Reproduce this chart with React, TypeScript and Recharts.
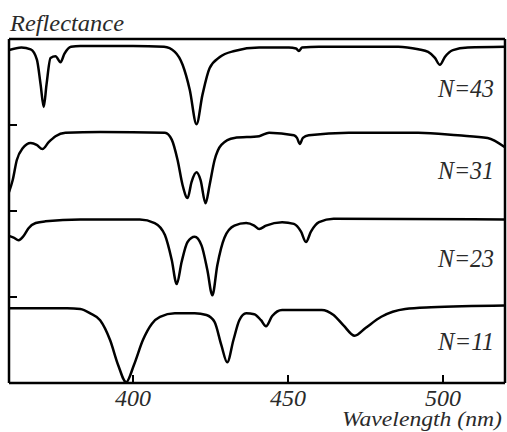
import React from "react";
import { ComposedChart, Line, XAxis, YAxis } from "recharts";

// Wavelength (nm) and stacked reflectance (band offset + value) for each sample
const n43Wl = [360, 364, 367, 369, 370.2, 371.2, 372.1, 373.4, 375, 376.6, 377.9, 380, 383, 400, 410, 413.5, 416, 418.3, 420.5, 422.4, 424.7, 428, 432.7, 440.7, 450.3, 452.6, 453.5, 454.5, 460, 485.6, 492, 495.2, 497.4, 499, 500.6, 503.2, 508, 520];
const n43R = [3.87, 3.9, 3.88, 3.76, 3.47, 3.21, 3.47, 3.78, 3.8, 3.73, 3.83, 3.91, 3.92, 3.92, 3.91, 3.85, 3.7, 3.41, 3.01, 3.35, 3.66, 3.79, 3.86, 3.9, 3.9, 3.89, 3.86, 3.9, 3.91, 3.91, 3.88, 3.85, 3.78, 3.7, 3.79, 3.87, 3.9, 3.91];

const n31Wl = [360, 361.2, 362.5, 364.4, 367, 368.9, 370.8, 372.8, 375, 378.2, 389.4, 410.3, 412.5, 414.4, 416, 417.6, 418.9, 420.5, 421.8, 423.4, 424.7, 426.3, 428.5, 432.7, 440.7, 443.9, 451.9, 452.9, 453.8, 454.8, 456.7, 469.6, 492, 504.8, 514.4, 520];
const n31R = [2.22, 2.36, 2.59, 2.73, 2.79, 2.77, 2.72, 2.8, 2.87, 2.91, 2.92, 2.91, 2.83, 2.59, 2.3, 2.15, 2.34, 2.45, 2.36, 2.09, 2.3, 2.59, 2.77, 2.85, 2.87, 2.91, 2.88, 2.85, 2.78, 2.85, 2.88, 2.91, 2.91, 2.88, 2.85, 2.74];

const n23Wl = [360, 361.5, 363.1, 364.7, 366.3, 368.6, 371.8, 383, 402.2, 407, 410.3, 412.5, 414.1, 415.7, 417.6, 419.9, 422.1, 424, 425.6, 427.2, 429.5, 432.7, 436.5, 439.1, 440.7, 442.9, 448.1, 451.9, 454.2, 455.8, 457.4, 460, 464.7, 520];
const n23R = [1.71, 1.69, 1.66, 1.71, 1.8, 1.86, 1.88, 1.9, 1.9, 1.86, 1.72, 1.43, 1.15, 1.41, 1.64, 1.7, 1.6, 1.31, 1.02, 1.37, 1.69, 1.83, 1.86, 1.83, 1.79, 1.83, 1.87, 1.85, 1.76, 1.64, 1.76, 1.87, 1.91, 1.9];

const n11Wl = [360, 378.8, 383, 386.2, 389.4, 392.6, 395.2, 397.8, 400.3, 403.2, 406.1, 408.7, 413.5, 419.9, 423.7, 426.3, 428.5, 430.4, 432.4, 434.3, 436.5, 439.1, 441.3, 442.9, 444.9, 448.1, 460.9, 464.7, 467.9, 471.5, 475, 480.1, 487.8, 496.2, 520];
const n11R = [0.87, 0.87, 0.86, 0.81, 0.73, 0.5, 0.21, 0.01, 0.21, 0.5, 0.69, 0.77, 0.81, 0.81, 0.79, 0.71, 0.44, 0.24, 0.5, 0.73, 0.81, 0.8, 0.73, 0.66, 0.78, 0.85, 0.85, 0.79, 0.67, 0.55, 0.64, 0.77, 0.86, 0.88, 0.9];

const xTicks = [400, 450, 500];
const yTicks = [1, 2, 3];
const seriesLabels = ["N=43", "N=31", "N=23", "N=11"];

const toData = (wl: number[], r: number[]) => wl.map((x, i) => ({ x, y: r[i] }));
const series = [
  toData(n43Wl, n43R),
  toData(n31Wl, n31R),
  toData(n23Wl, n23R),
  toData(n11Wl, n11R),
];

const FONT = "'Liberation Serif', 'Times New Roman', Times, serif";
const TXT = "#2a2a2a";

const XTick = (props: any) => {
  const { x, y, payload } = props;
  return (
    <g>
      <line x1={x} x2={x} y1={y} y2={y - 8} stroke="#000" strokeWidth={2} />
      <text
        x={x}
        y={y + 23}
        textAnchor="middle"
        fontFamily={FONT}
        fontStyle="italic"
        fontSize={23}
        fill={TXT}
        textLength={36}
        lengthAdjust="spacingAndGlyphs"
      >
        {payload.value}
      </text>
    </g>
  );
};

const YTick = (props: any) => {
  const { x, y } = props;
  return <line x1={x} x2={x + 8} y1={y} y2={y} stroke="#000" strokeWidth={2} />;
};

const labelBaselines = [97, 179, 267, 350];

export default function App() {
  return (
    <div style={{ position: "absolute", left: 0, top: 0, width: 507, height: 432, background: "#fff" }}>
      <ComposedChart width={507} height={432} data={series[0]} margin={{ top: 38, right: 1, bottom: 48, left: 8 }}>
        <XAxis
          xAxisId="bottom"
          dataKey="x"
          type="number"
          domain={[360, 520]}
          ticks={xTicks}
          allowDataOverflow
          height={1}
          tickSize={0}
          tickMargin={0}
          tickLine={false}
          axisLine={{ stroke: "#000", strokeWidth: 2.5 }}
          tick={<XTick />}
        />
        <XAxis
          xAxisId="top"
          orientation="top"
          dataKey="x"
          type="number"
          domain={[360, 520]}
          allowDataOverflow
          height={1}
          tick={false}
          tickLine={false}
          axisLine={{ stroke: "#000", strokeWidth: 2.5 }}
        />
        <YAxis
          yAxisId="left"
          type="number"
          domain={[0, 4]}
          ticks={yTicks}
          allowDataOverflow
          width={1}
          tickSize={0}
          tickMargin={0}
          tickLine={false}
          axisLine={{ stroke: "#000", strokeWidth: 2.5 }}
          tick={<YTick />}
        />
        <YAxis
          yAxisId="right"
          orientation="right"
          type="number"
          domain={[0, 4]}
          allowDataOverflow
          width={1}
          tick={false}
          tickLine={false}
          axisLine={{ stroke: "#000", strokeWidth: 2.5 }}
        />
        {series.map((d, i) => (
          <Line
            key={i}
            xAxisId="bottom"
            yAxisId="left"
            data={d}
            dataKey="y"
            type="monotone"
            stroke="#000"
            strokeWidth={2.5}
            dot={false}
            activeDot={false}
            isAnimationActive={false}
          />
        ))}
      </ComposedChart>
      <svg width={507} height={432} style={{ position: "absolute", left: 0, top: 0, pointerEvents: "none" }}>
        <text x={10} y={31} fontFamily={FONT} fontStyle="italic" fontSize={24} fill={TXT} textLength={114} lengthAdjust="spacingAndGlyphs">
          Reflectance
        </text>
        <text x={342} y={426} fontFamily={FONT} fontStyle="italic" fontSize={21} fill={TXT} textLength={160} lengthAdjust="spacingAndGlyphs">
          Wavelength (nm)
        </text>
        {seriesLabels.map((t, i) => (
          <text key={t} x={438} y={labelBaselines[i]} fontFamily={FONT} fontStyle="italic" fontSize={26} fill={TXT} textLength={56} lengthAdjust="spacingAndGlyphs">
            {t}
          </text>
        ))}
      </svg>
    </div>
  );
}
